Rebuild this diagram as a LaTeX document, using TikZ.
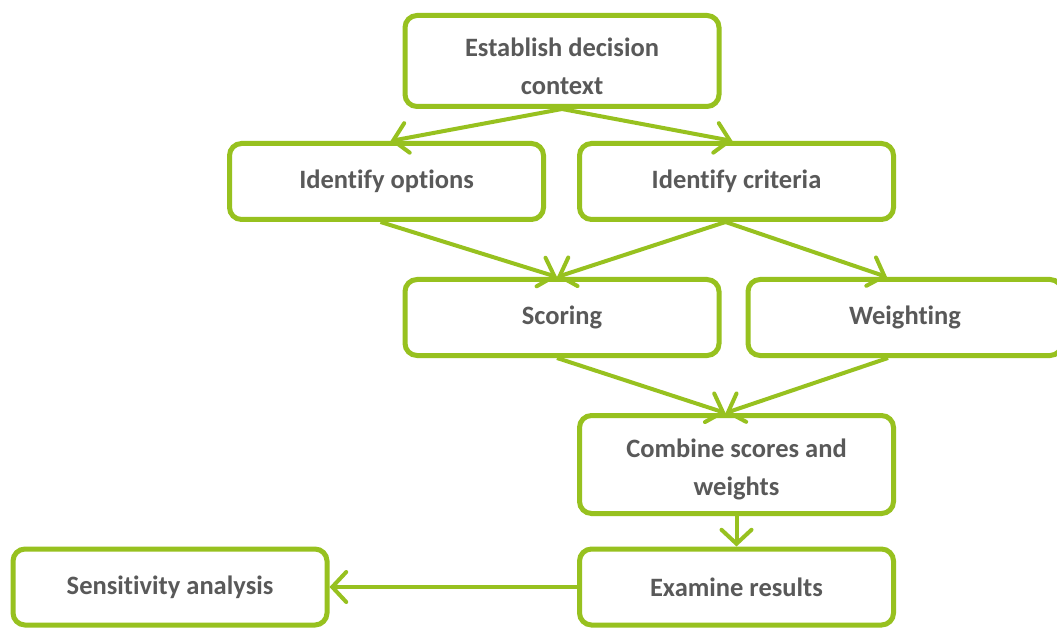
\documentclass[tikz,border=0pt]{standalone}
\usepackage{fontspec}
\setmainfont[Ligatures=NoCommon]{Carlito}
\usetikzlibrary{arrows.meta,calc}
\definecolor{grn}{HTML}{97C11F}
\definecolor{txt}{HTML}{595959}
\newcommand{\twoline}[3]{\raisebox{#1}[0pt][0pt]{\begin{tabular}{@{}c@{}}#2\\#3\end{tabular}}}
\tikzset{
  box/.style={draw=grn, line width=5pt, rounded corners=12pt, fill=white,
    minimum width=314pt, inner sep=0pt, align=center, text=txt,
    font=\fontsize{26.5}{38}\selectfont\bfseries},
  conn/.style={draw=grn, line width=4pt,
    -{Straight Barb[length=14pt,width=30pt,line cap=round]}}
}
\begin{document}
\begin{tikzpicture}[x=1pt,y=-1pt]
\clip (0,0) rectangle (1057,628);
\fill[white] (0,0) rectangle (1057,628);
\node[box, minimum height=91pt] (est) at (562,61) {\twoline{-13.5pt}{Establish decision}{context}};
\node[box, minimum height=76pt] (opt) at (386.5,181.5) {Identify options};
\node[box, minimum height=76pt] (cri) at (736.5,181.5) {Identify criteria};
\node[box, minimum height=76pt] (sco) at (562,317.5) {Scoring};
\node[box, minimum height=76pt] (wei) at (905,317.5) {Weighting};
\node[box, minimum height=98pt] (com) at (736.5,464.5) {\twoline{-11pt}{Combine scores and}{weights}};
\node[box, minimum height=76pt] (exa) at (736.5,587) {Examine results};
\node[box, minimum height=76pt] (sen) at (170,587) {Sensitivity analysis};
\draw[conn] (est.south) -- ($(opt.north)+(4,0)$);
\draw[conn] (est.south) -- ($(cri.north)+(-4,0)$);
\draw[conn] ($(opt.south)+(-6,0)$) -- ($(sco.north)+(-5,0)$);
\draw[conn] ($(cri.south)+(-11,0)$) -- ($(sco.north)+(-5,0)$);
\draw[conn] ($(cri.south)+(-11,0)$) -- ($(wei.north)+(-18,0)$);
\draw[conn] ($(sco.south)+(-5,0)$) -- ($(com.north)+(-11,0)$);
\draw[conn] ($(wei.south)+(-17,0)$) -- ($(com.north)+(-11,0)$);
\draw[conn] (com.south) -- (exa.north);
\draw[conn] (exa.west) -- (sen.east);
\end{tikzpicture}
\end{document}
